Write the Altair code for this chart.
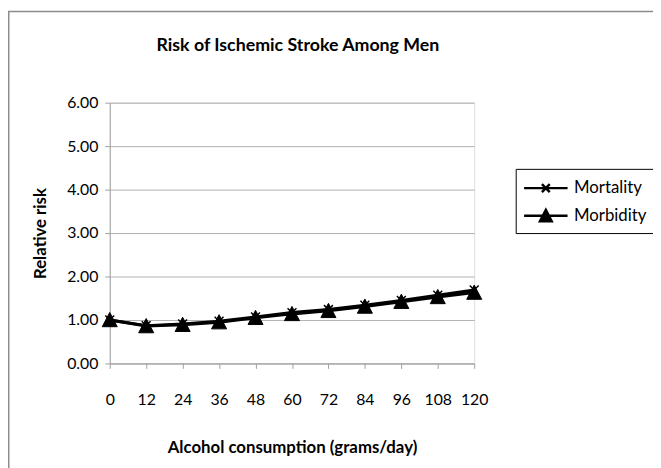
import altair as alt
import pandas as pd

alcohol = [0, 12, 24, 36, 48, 60, 72, 84, 96, 108, 120]
mortality = [1.00, 0.87, 0.91, 0.97, 1.07, 1.17, 1.24, 1.34, 1.45, 1.57, 1.69]
morbidity = [1.00, 0.86, 0.89, 0.95, 1.05, 1.14, 1.21, 1.31, 1.42, 1.53, 1.63]
series_names = ["Mortality", "Morbidity"]
y_ticks = [0, 1, 2, 3, 4, 5, 6]

FONT = "Lato"

df = pd.DataFrame({
    "alcohol": alcohol * 2,
    "risk": mortality + morbidity,
    "series": [series_names[0]] * len(alcohol) + [series_names[1]] * len(alcohol),
})

x = alt.X("alcohol:Q",
          scale=alt.Scale(domain=[0, 120], nice=False, zero=False),
          axis=alt.Axis(values=alcohol, title="Alcohol consumption (grams/day)",
                        grid=False, domainColor="#a0a0a0", tickColor="#a0a0a0",
                        tickSize=5, labelPadding=24, labelFont=FONT, labelFontSize=16,
                        labelColor="black", titleFont=FONT, titleFontSize=17,
                        titleFontWeight="bold", titleColor="black", titlePadding=32,
                        labelFlush=False))
y = alt.Y("risk:Q",
          scale=alt.Scale(domain=[0, 6], nice=False),
          axis=alt.Axis(values=y_ticks, format=".2f", title="Relative risk",
                        grid=True, gridColor="#b0b0b0", domainColor="#a0a0a0",
                        tickColor="#a0a0a0", tickSize=5, labelPadding=7,
                        labelFont=FONT, labelFontSize=16, labelColor="black",
                        titleFont=FONT, titleFontSize=17, titleFontWeight="bold",
                        titleColor="black", titlePadding=17))

base = alt.Chart(df)

lines = base.mark_line(color="black", strokeWidth=3).encode(x=x, y=y, detail="series:N")

x_path = "M-1,-1L1,1M-1,1L1,-1"
tri_path = "M0,-0.95L0.95,0.85L-0.95,0.85Z"

mort_pts = base.transform_filter(alt.datum.series == series_names[0]).mark_point(
    shape=x_path, filled=False, stroke="black", strokeWidth=1.5, size=81, opacity=1
).encode(x=x, y=y)

morb_pts = base.transform_filter(alt.datum.series == series_names[1]).mark_point(
    shape=tri_path, filled=True, fill="black", stroke="black", strokeWidth=1, size=256, opacity=1
).encode(x=x, y=y)

leg_mort = "M-2,0H2M-0.36,-0.36L0.36,0.36M-0.36,0.36L0.36,-0.36"
leg_morb = ("M-2,0H2M0,-0.54L0.54,0.5L-0.54,0.5Z"
            "M-0.44,0.38H0.44M-0.34,0.2H0.34M-0.24,0.02H0.24"
            "M-0.14,-0.16H0.14M-0.06,-0.34H0.06")

leg = alt.Legend(title=None, orient="none", legendX=411, legendY=67,
                 strokeColor="black", fillColor="white", padding=7,
                 labelFont=FONT, labelFontSize=17, labelColor="black",
                 rowPadding=6, symbolSize=484, symbolOffset=11,
                 labelOffset=16, symbolStrokeWidth=2.5, symbolOpacity=1)

legend_layer = base.transform_filter("false").mark_point(
    filled=False, strokeWidth=2.5, opacity=1
).encode(
    x=x, y=y,
    shape=alt.Shape("series:N",
                    scale=alt.Scale(domain=series_names, range=[leg_mort, leg_morb]),
                    legend=leg),
    color=alt.Color("series:N",
                    scale=alt.Scale(domain=series_names, range=["black", "black"]),
                    legend=leg),
)

frame = alt.Chart(pd.DataFrame({"k": [0]})).mark_rect(
    fill="transparent", stroke="#8c8c8c", strokeWidth=1.5
).encode(x=alt.value(-102.25), x2=alt.value(700), y=alt.value(-92.25), y2=alt.value(500))

chart = alt.layer(frame, lines, mort_pts, morb_pts, legend_layer).properties(
    width=369, height=264,
    title=alt.TitleParams("Risk of Ischemic Stroke Among Men", font=FONT, fontSize=18,
                          fontWeight="bold", color="black", anchor="middle", offset=-45,
                          dx=6),
    autosize=alt.AutoSizeParams(type="none"),
    padding={"left": 103, "top": 93, "right": 181, "bottom": 103},
).configure_view(stroke=None).configure(background="white")

chart.save("out.html", embed_options={"renderer": "svg", "actions": False})
